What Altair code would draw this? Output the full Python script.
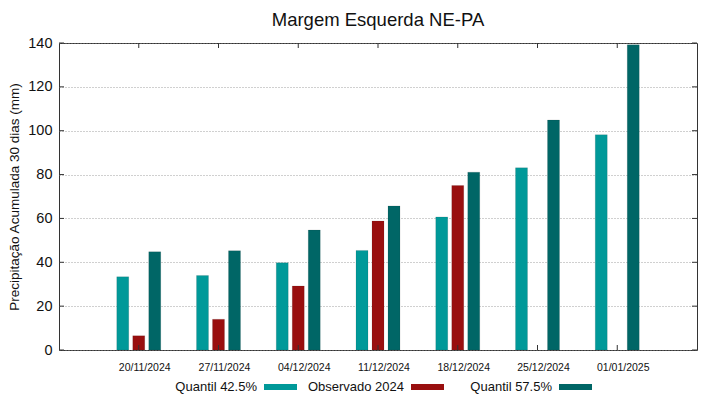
import altair as alt
import pandas as pd

dates = ["20/11/2024", "27/11/2024", "04/12/2024", "11/12/2024", "18/12/2024", "25/12/2024", "01/01/2025"]
q425 = [33.4, 34.0, 39.8, 45.4, 60.7, 83.1, 98.2]
obs = [6.5, 14.0, 29.2, 58.8, 75.0, None, None]
q575 = [44.8, 45.3, 54.7, 65.7, 81.1, 104.9, 139.2]
series = ["Quantil 42.5%", "Observado 2024", "Quantil 57.5%"]
colors = ["#009999", "#990f0f", "#006666"]
y_ticks = [0, 20, 40, 60, 80, 100, 120, 140]

W, H = 638, 307
FONT = "Liberation Sans"

rows = []
for i, d in enumerate(dates):
    for s, vals in zip(series, [q425, obs, q575]):
        if vals[i] is not None:
            rows.append({"date": d, "serie": s, "valor": vals[i]})
df = pd.DataFrame(rows)

step = W / 8.0
pin = 1 - 48.0 / step
xscale = alt.Scale(domain=dates, paddingInner=pin, paddingOuter=(1 + pin) / 2)
yscale = alt.Scale(domain=[0, 140], nice=False)

bars = alt.Chart(df).mark_bar(size=12, stroke="#222", strokeWidth=0.3, strokeOpacity=0.4).encode(
    x=alt.X("date:N", scale=xscale, sort=dates,
            axis=alt.Axis(title=None, labelAngle=0, labelFontSize=10.5, labelFont=FONT,
                          labelColor="#111", tickSize=0, domain=False, labelPadding=12,
                          labelOffset=6)),
    xOffset=alt.XOffset("serie:N", sort=series,
                        scale=alt.Scale(domain=series, paddingInner=0.25, paddingOuter=0.125)),
    y=alt.Y("valor:Q", scale=yscale,
            axis=alt.Axis(title="Precipitação Acumulada 30 dias (mm)", values=y_ticks,
                          titleFont=FONT, titleFontSize=13.5, titleFontWeight="normal",
                          titleColor="#111", labelFont=FONT, labelFontSize=14.5, labelColor="#111",
                          tickSize=0, domain=False, labelPadding=7, titlePadding=6,
                          grid=True, gridDash=[1, 2], gridColor="#888", gridWidth=0.8)),
    color=alt.Color("serie:N", scale=alt.Scale(domain=series, range=colors), legend=None),
)

tick_df = pd.DataFrame({"v": y_ticks})
tl = 5
yt_left = alt.Chart(tick_df).mark_rule(color="#333").encode(
    y=alt.Y("v:Q", scale=yscale), x=alt.value(0), x2=alt.value(tl))
yt_right = alt.Chart(tick_df).mark_rule(color="#333").encode(
    y=alt.Y("v:Q", scale=yscale), x=alt.value(W - tl), x2=alt.value(W))

date_df = pd.DataFrame({"date": dates})
xt_bot = alt.Chart(date_df).mark_rule(color="#333").encode(
    x=alt.X("date:N", scale=xscale, sort=dates, bandPosition=0.5), y=alt.value(H - tl), y2=alt.value(H))
xt_top = alt.Chart(date_df).mark_rule(color="#333").encode(
    x=alt.X("date:N", scale=xscale, sort=dates, bandPosition=0.5), y=alt.value(0), y2=alt.value(tl))

# legend (manual: label then swatch)
leg_text_x = [198, 345, 493]
leg_sw_x = [205, 352, 500]
leg_y = 344
legend_layers = []
for s, c, tx, sx in zip(series, colors, leg_text_x, leg_sw_x):
    ldf = pd.DataFrame({"label": [s]})
    legend_layers.append(
        alt.Chart(ldf).mark_text(align="right", baseline="middle", font=FONT, fontSize=13,
                                 color="#111").encode(
            text="label:N", x=alt.value(tx), y=alt.value(leg_y)))
    legend_layers.append(
        alt.Chart(ldf).mark_rect(color=c).encode(
            x=alt.value(sx), x2=alt.value(sx + 33), y=alt.value(leg_y - 3), y2=alt.value(leg_y + 3)))

chart = alt.layer(bars, yt_left, yt_right, xt_bot, xt_top, *legend_layers).properties(
    width=W, height=H,
    title=alt.TitleParams("Margem Esquerda NE-PA", font=FONT, fontSize=18.5, fontWeight="normal",
                          color="#111", anchor="middle", offset=6),
    autosize=alt.AutoSizeParams(type="none"),
    padding={"left": 51, "top": 35, "right": 14, "bottom": 47},
).configure_view(stroke="#333", strokeWidth=1)

chart.save("out.html", embed_options={"renderer": "svg", "actions": False})
